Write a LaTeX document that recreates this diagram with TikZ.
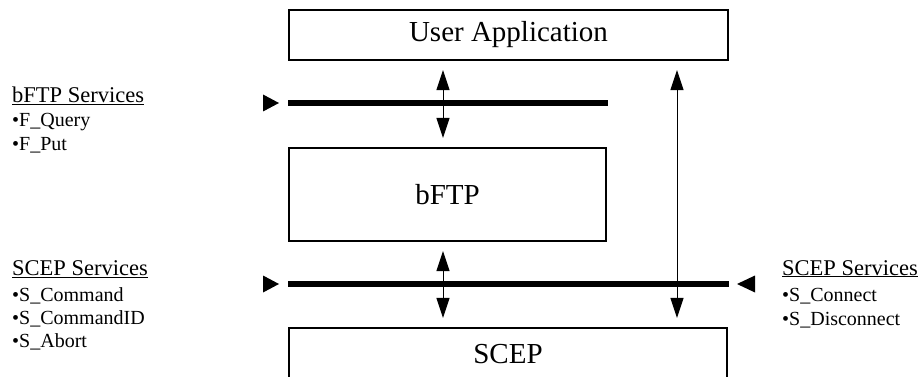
\documentclass[tikz,border=0pt]{standalone}
\usepackage{fontspec}
\setmainfont{Liberation Serif}
\usetikzlibrary{arrows.meta}

\begin{document}
\begin{tikzpicture}[x=1pt, y=-1pt,
        layer/.style={rectangle, draw, line width=1.2pt, inner sep=0pt, font=\fontsize{29}{34}\selectfont},
        bus/.style={line width=6pt},
        link/.style={{Triangle[length=20pt,width=13pt]}-{Triangle[length=20pt,width=13pt]}, line width=0.9pt, shorten <=9.5pt, shorten >=9.5pt},
        head/.style={anchor=base west, inner sep=0pt, font=\fontsize{22.5}{26}\selectfont},
        item/.style={anchor=base west, inner sep=0pt, font=\fontsize{20}{24}\selectfont}]
        \useasboundingbox (0,0) rectangle (922,377);
        \clip (0,0) rectangle (922,377);

        \node[layer, minimum width=439pt, minimum height=50pt] (app) at (508.5,35) {User Application};
        \node[layer, minimum width=317pt, minimum height=93pt] (bftp) at (447.5,194.5) {bFTP};
        \node[layer, minimum width=438pt, minimum height=52pt] (scep) at (508,354) {SCEP};

        \coordinate (bus1w) at (288,103);
        \coordinate (bus1e) at (608,103);
        \coordinate (bus2w) at (288,284);
        \coordinate (bus2e) at (729,284);
        \coordinate (mid) at (443,0);
        \coordinate (side) at (677,0);

        \draw[bus] (bus1w) -- (bus1e);
        \draw[bus] (bus2w) -- (bus2e);
        \fill ([shift={(-25,-8.5)}]bus1w) -- ([xshift=-9pt]bus1w) -- ([shift={(-25,8.5)}]bus1w) -- cycle;
        \fill ([shift={(-25,-8.5)}]bus2w) -- ([xshift=-9pt]bus2w) -- ([shift={(-25,8.5)}]bus2w) -- cycle;
        \fill ([shift={(26,-8.5)}]bus2e) -- ([xshift=8pt]bus2e) -- ([shift={(26,8.5)}]bus2e) -- cycle;

        \draw[link] (app.south -| mid) -- (bftp.north -| mid);
        \draw[link] (bftp.south -| mid) -- (scep.north -| mid);
        \draw[link] (app.south -| side) -- (scep.north -| side);

        \node[head] (bftphd) at (12,103) {\underline{bFTP Services}};
        \node[item] (fquery) at (12,127) {\textbullet F\_Query};
        \node[item] (fput) at (12,151) {\textbullet F\_Put};
        \node[head] (scephd) at (12,276) {\underline{SCEP Services}};
        \node[item] (scmd) at (12,301) {\textbullet S\_Command};
        \node[item] (scmdid) at (12,324) {\textbullet S\_CommandID};
        \node[item] (sabort) at (12,347) {\textbullet S\_Abort};
        \node[head] (scephdr) at (782,275) {\underline{SCEP Services}};
        \node[item] (sconn) at (782,301) {\textbullet S\_Connect};
        \node[item] (sdisc) at (782,325) {\textbullet S\_Disconnect};
    \end{tikzpicture}
\end{document}
